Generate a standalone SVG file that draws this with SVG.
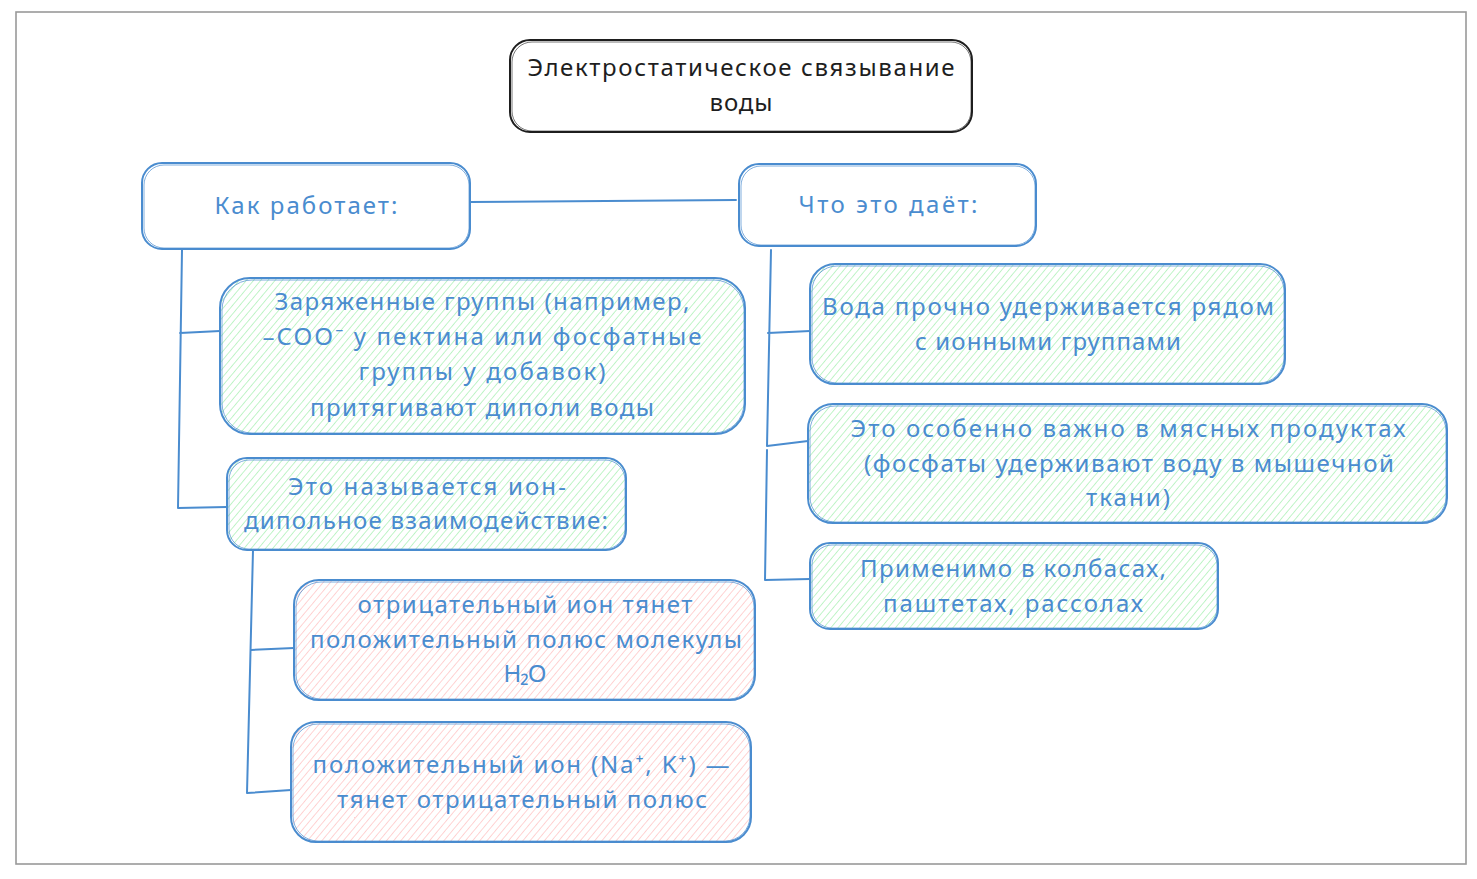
<svg xmlns="http://www.w3.org/2000/svg" width="1477" height="879" viewBox="0 0 1477 879">
<defs>
<pattern id="hg" width="5.5" height="5.5" patternUnits="userSpaceOnUse" patternTransform="rotate(40)">
<line x1="0" y1="0" x2="0" y2="5.5" stroke="#b2f2bb" stroke-width="1.6"/>
</pattern>
<pattern id="hr" width="5.5" height="5.5" patternUnits="userSpaceOnUse" patternTransform="rotate(40)">
<line x1="0" y1="0" x2="0" y2="5.5" stroke="#ffc9c9" stroke-width="1.6"/>
</pattern>
</defs>
<style>
.frame{fill:#ffffff;stroke:#999999;stroke-width:1.6}
.box{stroke:#4a8ccf;stroke-width:2;fill:#ffffff}
.box2{stroke:#4a8ccf;stroke-width:1;fill:none;opacity:0.7}
.g{fill:url(#hg)}
.r{fill:url(#hr)}
.t{font-family:"Noto Sans","DejaVu Sans",sans-serif;font-size:24px;fill:#4a8ccf;text-anchor:middle}
.tb{font-family:"Noto Sans","DejaVu Sans",sans-serif;font-size:24px;fill:#1e1e1e;text-anchor:middle}
.c{fill:none;stroke:#4a8ccf;stroke-width:2;stroke-linecap:round;stroke-linejoin:round}
</style>
<rect x="16" y="12" width="1450" height="852" class="frame"/>

<g id="connectors">
<path class="c" d="M470,202 L736,200"/>
<path class="c" d="M182,250 L178,508 L227,507 M180,333 L220,331"/>
<path class="c" d="M253,550 L247,793 L291,790 M251,650 L294,648"/>
<path class="c" d="M771,250 L767,446 L808,441 M768,333 L810,331 M767,450 L765,580 L810,579"/>
</g>

<g id="title">
<rect x="510" y="40" width="462" height="92" rx="20" fill="#ffffff" stroke="#1e1e1e" stroke-width="2"/>
<rect x="512" y="42" width="459" height="89" rx="20" fill="none" stroke="#1e1e1e" stroke-width="1" opacity="0.6"/>
<text class="tb" x="741" y="76" textLength="427" lengthAdjust="spacing">Электростатическое связывание</text>
<text class="tb" x="741" y="111" textLength="63" lengthAdjust="spacing">воды</text>
</g>

<g id="how">
<rect x="142" y="163" width="328" height="86" rx="20" class="box"/>
<rect x="144" y="165" width="325" height="83" rx="20" class="box2"/>
<text class="t" x="306" y="214" textLength="183" lengthAdjust="spacing">Как работает:</text>
</g>

<g id="gives">
<rect x="739" y="164" width="297" height="82" rx="20" class="box"/>
<rect x="741" y="166" width="294" height="79" rx="20" class="box2"/>
<text class="t" x="888" y="213" textLength="179" lengthAdjust="spacing">Что это даёт:</text>
</g>

<g id="charged">
<rect x="220" y="278" width="525" height="156" rx="30" class="box g"/>
<rect x="222" y="280" width="522" height="153" rx="30" class="box2"/>
<text class="t" x="482" y="310" textLength="415" lengthAdjust="spacing">Заряженные группы (например,</text>
<text class="t" x="482" y="345" textLength="439" lengthAdjust="spacing">–COO⁻ у пектина или фосфатные</text>
<text class="t" x="482" y="380" textLength="247" lengthAdjust="spacing">группы у добавок)</text>
<text class="t" x="482" y="416" textLength="344" lengthAdjust="spacing">притягивают диполи воды</text>
</g>

<g id="iondipole">
<rect x="227" y="458" width="399" height="92" rx="20" class="box g"/>
<rect x="229" y="460" width="396" height="89" rx="20" class="box2"/>
<text class="t" x="427" y="495" textLength="278" lengthAdjust="spacing">Это называется ион-</text>
<text class="t" x="426" y="529" textLength="364" lengthAdjust="spacing">дипольное взаимодействие:</text>
</g>

<g id="negative">
<rect x="294" y="580" width="461" height="120" rx="25" class="box r"/>
<rect x="296" y="582" width="458" height="117" rx="25" class="box2"/>
<text class="t" x="525" y="613" textLength="335" lengthAdjust="spacing">отрицательный ион тянет</text>
<text class="t" x="526" y="648" textLength="432" lengthAdjust="spacing">положительный полюс молекулы</text>
<text class="t" x="525" y="682" textLength="43" lengthAdjust="spacing">H₂O</text>
</g>

<g id="positive">
<rect x="291" y="722" width="460" height="120" rx="25" class="box r"/>
<rect x="293" y="724" width="457" height="117" rx="25" class="box2"/>
<text class="t" x="521" y="773" textLength="417" lengthAdjust="spacing">положительный ион (Na⁺, K⁺) —</text>
<text class="t" x="522" y="808" textLength="370" lengthAdjust="spacing">тянет отрицательный полюс</text>
</g>

<g id="water">
<rect x="810" y="264" width="475" height="120" rx="25" class="box g"/>
<rect x="812" y="266" width="472" height="117" rx="25" class="box2"/>
<text class="t" x="1048" y="315" textLength="452" lengthAdjust="spacing">Вода прочно удерживается рядом</text>
<text class="t" x="1048" y="350" textLength="266" lengthAdjust="spacing">с ионными группами</text>
</g>

<g id="meat">
<rect x="808" y="404" width="639" height="119" rx="25" class="box g"/>
<rect x="810" y="406" width="636" height="116" rx="25" class="box2"/>
<text class="t" x="1128" y="437" textLength="555" lengthAdjust="spacing">Это особенно важно в мясных продуктах</text>
<text class="t" x="1129" y="472" textLength="530" lengthAdjust="spacing">(фосфаты удерживают воду в мышечной</text>
<text class="t" x="1128" y="506" textLength="84" lengthAdjust="spacing">ткани)</text>
</g>

<g id="sausage">
<rect x="810" y="543" width="408" height="86" rx="20" class="box g"/>
<rect x="812" y="545" width="405" height="83" rx="20" class="box2"/>
<text class="t" x="1013" y="577" textLength="306" lengthAdjust="spacing">Применимо в колбасах,</text>
<text class="t" x="1013" y="612" textLength="260" lengthAdjust="spacing">паштетах, рассолах</text>
</g>
</svg>
